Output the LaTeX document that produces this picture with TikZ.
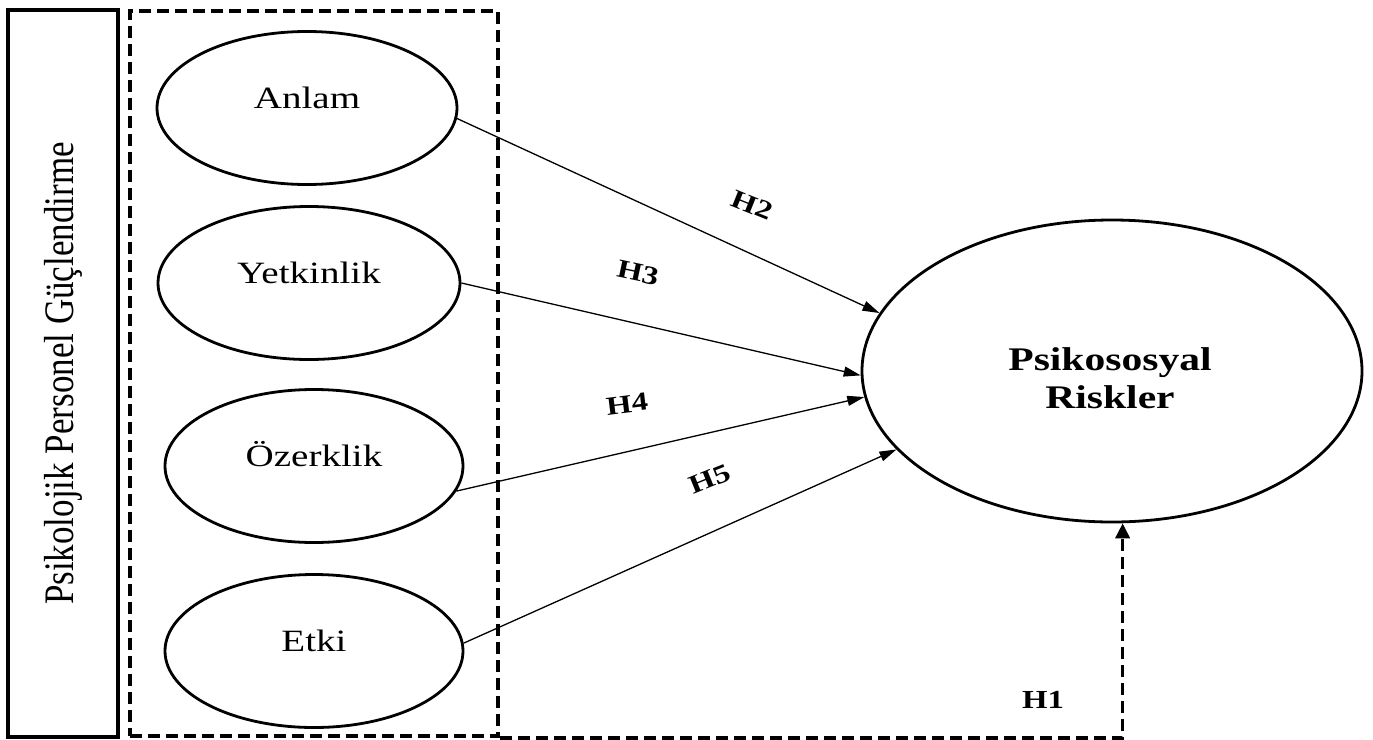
\documentclass[tikz,border=0pt]{standalone}
\usepackage{fontspec}
\setmainfont[FakeStretch=1.26]{Liberation Serif}
\newfontfamily\vfont{Liberation Serif}
\usetikzlibrary{shapes.geometric,arrows.meta,calc}
\begin{document}
\begin{tikzpicture}[x=1pt,y=-1pt,
  ell/.style={draw, ellipse, line width=2.8pt, inner sep=0pt},
  lbl/.style={anchor=base, inner sep=0pt, font=\fontsize{31}{36}\selectfont},
  hyp/.style={inner sep=0pt, font=\bfseries\fontsize{26}{30}\selectfont},
  link/.style={line width=1.3pt, -{Triangle[length=17pt,width=10pt]}},
  dsh/.style={line width=3.6pt, dash pattern=on 12pt off 6pt}]
\fill[white] (0,0) rectangle (1373,739);
\useasboundingbox (0,0) rectangle (1373,739);

% side box with rotated title
\node[draw, line width=3.4pt, rotate=90, minimum width=727pt, minimum height=110pt, inner sep=0pt] (ppg) at (63,373.5)
  {\vfont\fontsize{35}{40}\selectfont\scalebox{1}[1.2]{Psikolojik Personel Güçlendirme}};

% dashed group box
\node[draw, dsh, minimum width=368pt, minimum height=725pt, inner sep=0pt] (grp) at (314,373.5) {};

% dimension ellipses
\node[ell, minimum width=300pt, minimum height=153pt] (anlam) at (307,108) {};
\node[ell, minimum width=302pt, minimum height=153pt] (yet) at (309,283) {};
\node[ell, minimum width=298pt, minimum height=153pt] (oz) at (314,466) {};
\node[ell, minimum width=298pt, minimum height=153pt] (etki) at (314,651) {};
\node[lbl] (tanlam) at (anlam.center) {Anlam};
\node[lbl] (tyet) at (yet.center) {Yetkinlik};
\node[lbl] (toz) at (oz.center) {Özerklik};
\node[lbl] (tetki) at (etki.center) {Etki};

% outcome ellipse
\node[ell, minimum width=500pt, minimum height=302pt] (pr) at (1112,371) {};
\node[align=center, inner sep=0pt, font=\bfseries\fontsize{33}{38}\selectfont] (tpr) at (1110,378) {Psikososyal\\Riskler};

% connectors
\draw[link] (anlam.-4) -- (pr.166);
\draw[link] (yet.east) -- (pr.181);
\draw[link] (oz.-10) -- (pr.186);
\draw[link] (etki.3) -- (pr.200);
\draw[dsh, -{Triangle[length=15pt,width=14pt]}] (grp.south east) -| (pr.-86);

% hypothesis labels
\node[hyp, rotate=-22] (h2) at (752,205) {H2};
\node[hyp, rotate=-12] (h3) at (638,273) {H3};
\node[hyp, rotate=7] (h4) at (627,404) {H4};
\node[hyp, rotate=22] (h5) at (710,479) {H5};
\node[hyp] (h1) at (1043,700) {H1};
\end{tikzpicture}
\end{document}
